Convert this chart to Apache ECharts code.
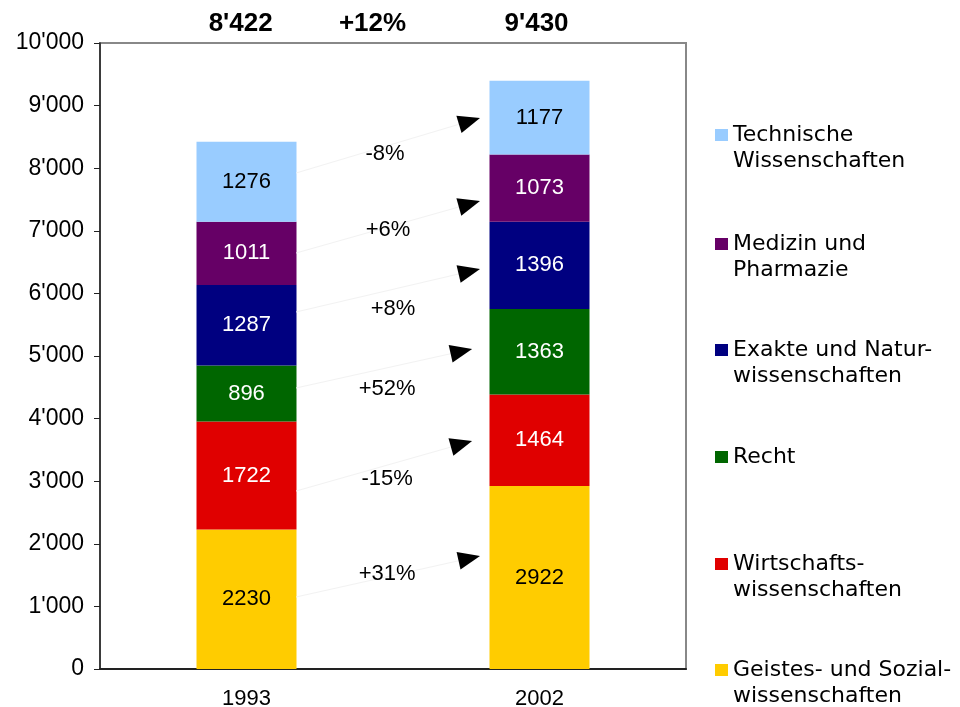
<!DOCTYPE html>
<html>
<head>
<meta charset="utf-8">
<script src="https://cdn.jsdelivr.net/npm/echarts@6/dist/echarts.min.js"></script>
<style>
  html, body { margin: 0; padding: 0; background: #fff; }
  #chart { width: 960px; height: 707px; }
</style>
</head>
<body>
<div id="chart"></div>
<script>
var years = ["1993", "2002"];

// Fachbereiche, von unten nach oben gestapelt
var fields = [
  "Geistes- und Sozialwissenschaften",
  "Wirtschaftswissenschaften",
  "Recht",
  "Exakte und Naturwissenschaften",
  "Medizin und Pharmazie",
  "Technische Wissenschaften"
];
var legendText = [
  "\nGeistes- und Sozial-\nwissenschaften",
  "\nWirtschafts-\nwissenschaften",
  "Recht",
  "\nExakte und Natur-\nwissenschaften",
  "\nMedizin und\nPharmazie",
  "\nTechnische\nWissenschaften"
];
var values1993 = [2230, 1722, 896, 1287, 1011, 1276];
var values2002 = [2922, 1464, 1363, 1396, 1073, 1177];
var colors = ["#FFCC00", "#E00000", "#006600", "#000080", "#660066", "#99CCFF"];
var labelColors = ["#000", "#fff", "#fff", "#fff", "#fff", "#000"];

// Pfeile: Start (1993) und Ziel (2002), x auf Hilfsachse 0..2
var arrowFromX = 0.669;
var arrowFromY = [1150, 2843, 4489, 5703, 6645, 7923];
var arrowToX = [1.297, 1.27, 1.27, 1.297, 1.297, 1.297];
var arrowToY = [1805, 3642, 5112, 6390, 7476, 8802];
var changes = ["+31%", "-15%", "+52%", "+8%", "+6%", "-8%"];
var changeX = [0.98, 0.98, 0.98, 1.0, 0.983, 0.973];
var changeY = [1518, 3035, 4473, 5751, 7013, 8227];

var totals = ["8'422", "+12%", "9'430"];
var totalsX = [0.48, 0.93, 1.49];

var yTicks = [0, 1000, 2000, 3000, 4000, 5000, 6000, 7000, 8000, 9000, 10000];

var legendTops = [631, 525, 444, 311, 205, 96];

function fmtThousand(v) {
  var s = String(v);
  return s.replace(/\B(?=(\d{3})+(?!\d))/g, "'");
}

var font = "'Liberation Sans', Arial, sans-serif";

var dom = document.getElementById("chart");
var myChart = echarts.init(dom, null, { renderer: "canvas" });

var series = fields.map(function (name, i) {
  return {
    name: name,
    type: "bar",
    stack: "total",
    barWidth: 100,
    data: [values1993[i], values2002[i]],
    itemStyle: { color: colors[i] },
    label: {
      show: true,
      position: "inside",
      color: labelColors[i],
      fontFamily: font,
      fontSize: 22
    }
  };
});

series.push({
  type: "custom",
  xAxisIndex: 1,
  yAxisIndex: 0,
  silent: true,
  z: 5,
  data: arrowFromY.map(function (y, i) {
    return [arrowFromX, y, arrowToX[i], arrowToY[i]];
  }),
  renderItem: function (params, api) {
    var p0 = api.coord([api.value(0), api.value(1)]);
    var p1 = api.coord([api.value(2), api.value(3)]);
    var dx = p1[0] - p0[0], dy = p1[1] - p0[1];
    var len = Math.sqrt(dx * dx + dy * dy);
    var ux = dx / len, uy = dy / len;
    var hl = 22, hw = 9;
    var bx = p1[0] - ux * hl, by = p1[1] - uy * hl;
    return {
      type: "group",
      children: [
        {
          type: "line",
          shape: { x1: p0[0], y1: p0[1], x2: bx, y2: by },
          style: { stroke: "#f2f2f2", lineWidth: 1 }
        },
        {
          type: "polygon",
          shape: { points: [[p1[0], p1[1]], [bx - uy * hw, by + ux * hw], [bx + uy * hw, by - ux * hw]] },
          style: { fill: "#000" }
        }
      ]
    };
  }
});

series.push({
  type: "scatter",
  xAxisIndex: 1,
  yAxisIndex: 0,
  silent: true,
  symbolSize: 0,
  z: 6,
  itemStyle: { opacity: 1 },
  data: changes.map(function (t, i) { return [changeX[i], changeY[i], t]; }),
  label: {
    show: true,
    position: "inside",
    formatter: function (p) { return p.value[2]; },
    color: "#000",
    fontFamily: font,
    fontSize: 22
  }
});

series.push({
  type: "scatter",
  xAxisIndex: 1,
  yAxisIndex: 0,
  silent: true,
  symbolSize: 0,
  clip: false,
  itemStyle: { opacity: 1 },
  data: totals.map(function (t, i) { return [totalsX[i], 10000, t]; }),
  label: {
    show: true,
    position: "inside",
    offset: [0, -19],
    formatter: function (p) { return p.value[2]; },
    color: "#000",
    fontFamily: font,
    fontWeight: "bold",
    fontSize: 26
  }
});

var legends = fields.map(function (name, i) {
  return {
    data: [name],
    left: 715,
    top: legendTops[i],
    padding: 0,
    orient: "vertical",
    icon: "rect",
    itemWidth: 13,
    itemHeight: 12,
    itemGap: 5,
    selectedMode: false,
    formatter: function () { return legendText[i]; },
    textStyle: {
      fontFamily: "'DejaVu Sans', sans-serif",
      fontSize: 22,
      lineHeight: 26,
      color: "#000"
    }
  };
});

var option = {
  animation: false,
  backgroundColor: "#fff",
  legend: legends,
  grid: {
    left: 100,
    right: 274,
    top: 43,
    bottom: 38,
    outerBoundsMode: "none",
    show: true,
    borderColor: "#888888",
    borderWidth: 2,
    backgroundColor: "#fff"
  },
  xAxis: [
    {
      type: "category",
      data: years,
      axisLine: { show: true, lineStyle: { color: "#222", width: 2 } },
      axisTick: { show: false },
      axisLabel: { color: "#000", fontFamily: font, fontSize: 22, margin: 19 }
    },
    {
      type: "value",
      min: 0,
      max: 2,
      show: false
    }
  ],
  yAxis: {
    type: "value",
    min: yTicks[0],
    max: yTicks[yTicks.length - 1],
    interval: 1000,
    splitLine: { show: false },
    axisLine: { show: true, lineStyle: { color: "#222", width: 1.5 } },
    axisTick: { show: true, length: 6, lineStyle: { color: "#222" } },
    axisLabel: {
      color: "#000",
      fontFamily: font,
      fontSize: 23,
      margin: 16,
      formatter: fmtThousand
    }
  },
  series: series
};

myChart.setOption(option);
window.addEventListener("resize", myChart.resize);
</script>
</body>
</html>
